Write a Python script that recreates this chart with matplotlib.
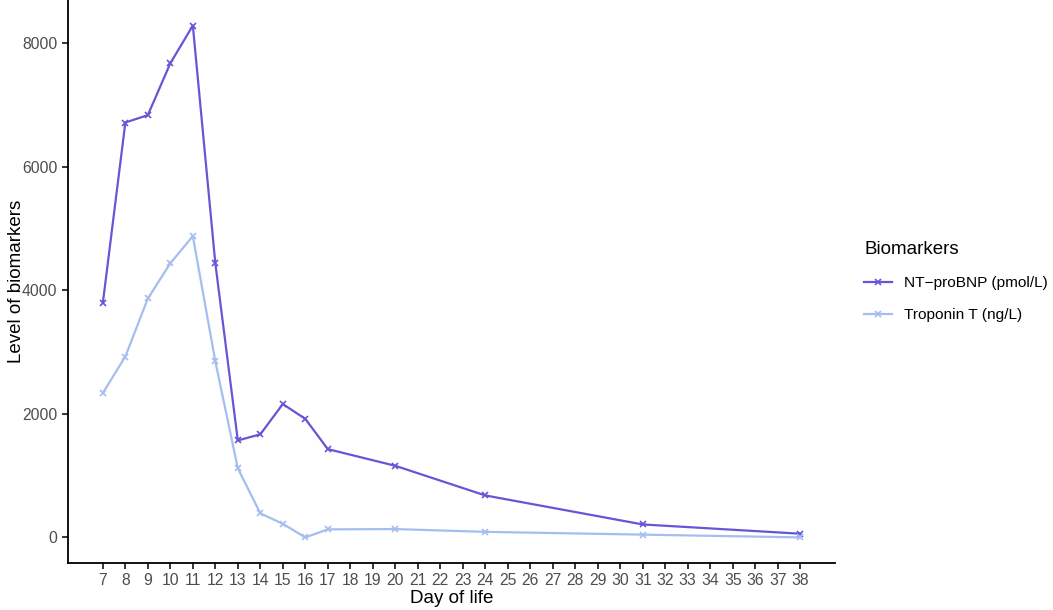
import matplotlib.pyplot as plt

plt.rcParams['font.family'] = ['Liberation Sans', 'DejaVu Sans']

days = [7, 8, 9, 10, 11, 12, 13, 14, 15, 16, 17, 20, 24, 31, 38]
nt_probnp = [3800, 6720, 6840, 7680, 8290, 4440, 1570, 1670, 2160, 1920, 1430, 1160, 680, 210, 60]
troponin_t = [2340, 2930, 3870, 4440, 4880, 2850, 1120, 390, 220, 0, 130, 135, 90, 45, 0]
labels = ["NT\u2212proBNP (pmol/L)", "Troponin T (ng/L)"]
colors = ["#6656D6", "#A4BEF0"]

fig = plt.figure(figsize=(10.53, 6.10), dpi=100)
ax = fig.add_axes([68 / 1053, 47 / 610, (835 - 68) / 1053, 563 / 610])

for vals, lab, col in zip([nt_probnp, troponin_t], labels, colors):
    ax.plot(days, vals, color=col, lw=1.6, marker='x', ms=5, mew=1.2, label=lab)

ax.set_xlim(7 - 0.05 * 31, 38 + 0.05 * 31)
ymax = max(nt_probnp)
ax.set_ylim(-0.05 * ymax, ymax * 1.05)
ax.set_xticks(range(7, 39))
ax.set_yticks([0, 2000, 4000, 6000, 8000])

for s in ['top', 'right']:
    ax.spines[s].set_visible(False)
for s in ['left', 'bottom']:
    ax.spines[s].set_linewidth(1.3)
ax.tick_params(length=4.5, width=1.1, labelsize=11.3, labelcolor='#4D4D4D', pad=3)

ax.set_xlabel("Day of life", fontsize=13.5, labelpad=1)
ax.set_ylabel("Level of biomarkers", fontsize=13.5)
ax.yaxis.set_label_coords(-0.056, 0.5)

leg = ax.legend(loc='center left', bbox_to_anchor=(1.02, 0.50), frameon=False,
                title="Biomarkers", title_fontsize=13.5, fontsize=11.1,
                handlelength=1.8, labelspacing=1.2, alignment='left')

fig.savefig("out.png", dpi=100)
